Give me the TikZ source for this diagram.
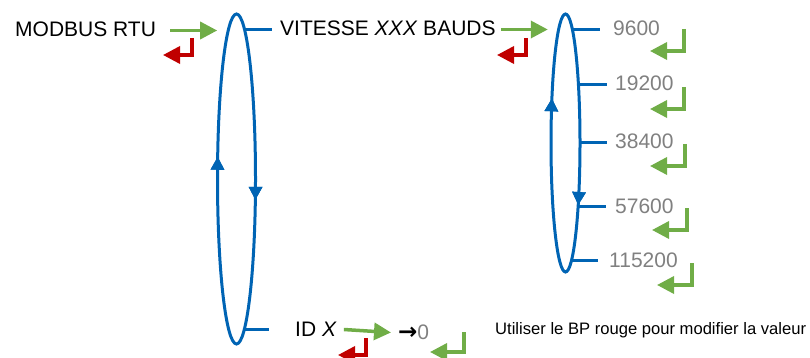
\documentclass[tikz,border=0pt]{standalone}
\usepackage{fontspec}
\setmainfont{Liberation Sans}
\newfontfamily\arrowfont{DejaVu Sans}
\usetikzlibrary{arrows.meta,positioning,decorations.markings}
\definecolor{LoopBlue}{HTML}{0064B4}
\definecolor{OkGreen}{HTML}{70AD47}
\definecolor{BackRed}{HTML}{C00000}
\definecolor{ValGray}{HTML}{808080}

\begin{document}
\begin{tikzpicture}[
  x=1pt, y=-1pt,
  lbl/.style={inner sep=0,anchor=west,text height=13pt,text depth=0pt,font=\fontsize{21pt}{25pt}\selectfont},
  val/.style={lbl,text=ValGray},
  hint/.style={inner sep=0,anchor=west,text height=11pt,text depth=0pt,font=\fontsize{16.6pt}{19pt}\selectfont},
  branch/.style={LoopBlue,line width=3pt},
  loop/.style={LoopBlue,line width=3pt,fill=white},
  turn/.style={postaction={decorate},decoration={markings,
    mark=at position #1 with {\arrow{Triangle[length=13pt,width=13pt]}}}},
  go/.style={-{Triangle[length=17pt,width=17pt]},OkGreen,line width=3.5pt},
  ok/.style={-{Triangle[length=17pt,width=17pt]},OkGreen,line width=3.5pt},
  back/.style={-{Triangle[length=17pt,width=17pt]},BackRed,line width=3.5pt}
]
  \useasboundingbox (0,0) rectangle (810,358);

  % menu entries
  \node[lbl] (modbus) at (15,30.5) {MODBUS RTU};
  \node[lbl] (vitesse) at (280,29.5) {VITESSE \textit{XXX} BAUDS};
  \node[lbl] (idx) at (295,329.5) {ID \textit{X}};
  \node[lbl] (zero) at (398,332.5) {{\arrowfont\bfseries\fontsize{23pt}{25pt}\selectfont →}\textcolor{ValGray}{0}};

  % baud rates
  \node[val] (v9600) at (613,29.5) {9600};
  \node[val] (v19200) at (615,84.5) {19200};
  \node[val] (v38400) at (615,142.5) {38400};
  \node[val] (v57600) at (615,206.5) {57600};
  \node[val] (v115200) at (609,260.5) {115200};

  \node[hint] (note) at (495,328.5) {Utiliser le BP rouge pour modifier la valeur};

  \coordinate (loopA) at (236.5,179);
  \coordinate (loopB) at (565.5,143);

  \draw[branch] (loopA |- vitesse.west) -- ([xshift=-8pt]vitesse.west);
  \draw[branch] (loopA |- idx.west) -- ([xshift=-26pt]idx.west);
  \draw[branch] (loopB |- v9600.west) -- ([xshift=-13pt]v9600.west);
  \draw[branch] (loopB |- v19200.west) -- ([xshift=-8pt]v19200.west);
  \draw[branch] (loopB |- v38400.west) -- ([xshift=-8pt]v38400.west);
  \draw[branch] (loopB |- v57600.west) -- ([xshift=-9pt]v57600.west);
  \draw[branch] (loopB |- v115200.west) -- ([xshift=-11pt]v115200.west);

  \draw[loop,turn=0.031,turn=0.533] (loopA) ellipse [x radius=19,y radius=165];
  \draw[loop,turn=0.118,turn=0.585] (loopB) ellipse [x radius=14.5,y radius=129];

  \draw[go] ([xshift=14pt]modbus.east) -- ++(47,0);
  \draw[go] ([xshift=5pt]vitesse.east) -- ++(47,0);
  \draw[go] ([xshift=7pt]idx.east) -- ([xshift=-7pt]zero.west);

  % back / validate keys
  \draw[back] (192,38) |- (163,55);
  \draw[back] (526,38) |- (497,55);
  \draw[back] (366,338) |- (338,355);
  \draw[ok] (684,29) |- (650,51);
  \draw[ok] (684,87) |- (650,109);
  \draw[ok] (685,144) |- (650,166);
  \draw[ok] (687,208) |- (652,230);
  \draw[ok] (692,263) |- (657,285);
  \draw[ok] (464,332) |- (430,352);
\end{tikzpicture}
\end{document}
